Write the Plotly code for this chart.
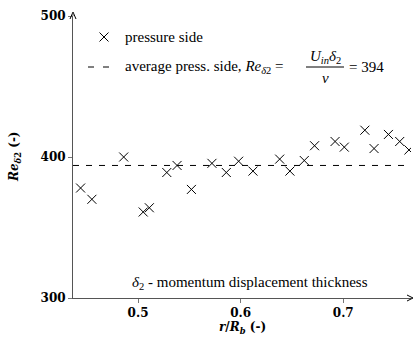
import plotly.graph_objects as go

# data
r_over_Rb = [0.444, 0.455, 0.486, 0.505, 0.511, 0.528, 0.538, 0.552, 0.572, 0.586,
             0.598, 0.612, 0.638, 0.648, 0.662, 0.672, 0.692, 0.701, 0.721, 0.730,
             0.744, 0.755, 0.764]
re_delta2 = [378, 370, 400, 361, 364, 389, 394, 377, 395.5, 389,
             397, 390, 398.5, 390, 397.5, 408, 411, 407, 419, 406,
             416, 411, 405]
avg_re = 394
x_ticks = [0.5, 0.6, 0.7]
x_tick_labels = ["0.5", "0.6", "0.7"]
y_ticks = [300, 400, 500]
y_tick_labels = ["300", "400", "500"]
x_range = [0.4366, 0.766]
y_range = [300, 500]

W, H = 414, 345
L, R, T, B = 73, 3, 16, 47
PW, PH = W - L - R, H - T - B


def px(xp):
    return (xp - L) / PW


def py(yp):
    return (H - B - yp) / PH


SERIF = "Liberation Serif"
BOLD = "DejaVu Serif"

fig = go.Figure()
fig.add_trace(go.Scatter(x=x_range, y=[avg_re, avg_re], mode="lines",
                         line=dict(color="black", width=1, dash="6px,7px"),
                         showlegend=False, hoverinfo="skip"))
fig.add_trace(go.Scatter(x=r_over_Rb, y=re_delta2, mode="markers",
                         marker=dict(symbol="x-thin", size=9,
                                     line=dict(color="black", width=1)),
                         showlegend=False))

axis_common = dict(showgrid=False, zeroline=False, showline=True,
                   linecolor="#555", linewidth=1, ticks="outside", ticklen=4,
                   tickcolor="#777", tickwidth=1,
                   tickfont=dict(family=BOLD, size=12, color="black", weight="bold"))
fig.update_xaxes(range=x_range, tickvals=x_ticks, ticktext=x_tick_labels, **axis_common)
fig.update_yaxes(range=y_range, tickvals=y_ticks, ticktext=y_tick_labels, **axis_common)

shapes = []


def seg(x0, y0, x1, y1, **kw):
    line = dict(color="black", width=1)
    line.update(kw)
    return dict(type="line", xref="paper", yref="paper", x0=px(x0), x1=px(x1),
                y0=py(y0), y1=py(y1), line=line)


# legend cross sample
cx, cy, hs = 104, 37, 4.5
shapes.append(seg(cx - hs, cy - hs, cx + hs, cy + hs))
shapes.append(seg(cx - hs, cy + hs, cx + hs, cy - hs))
# legend dash sample
shapes.append(seg(88, 67, 110, 67, dash="6px,9px"))
# fraction bar
shapes.append(seg(306, 67, 344, 67))
# axis arrow heads
shapes.append(seg(407, 295, 413, 298))
shapes.append(seg(407, 301, 413, 298))
shapes.append(seg(70, 19, 73, 12))
shapes.append(seg(76, 19, 73, 12))
shapes.append(seg(73, 16, 73, 12, color="#555"))

ann = []
tf = dict(family=SERIF, size=15, color="black")
ann.append(dict(text="pressure side", x=px(123), y=py(37), xanchor="left", yanchor="middle"))
ann.append(dict(text="average press. side, <i>Re</i><sub><i>δ</i>2</sub> =", x=px(123), y=py(67),
                xanchor="left", yanchor="middle"))
ann.append(dict(text="<i>U</i><sub><i>in</i></sub><i>δ</i><sub>2</sub>", x=px(325), y=py(57),
                xanchor="center", yanchor="middle"))
ann.append(dict(text="<i>ν</i>", x=px(325), y=py(78), xanchor="center", yanchor="middle"))
ann.append(dict(text="= 394", x=px(347), y=py(67), xanchor="left", yanchor="middle"))
ann.append(dict(text="<i>δ</i><sub>2</sub> - momentum displacement thickness", x=px(250), y=py(283),
                xanchor="center", yanchor="middle"))
for a in ann:
    a.update(xref="paper", yref="paper", showarrow=False, font=tf)

# axis titles
ann.append(dict(text="<b><i>r</i>/<i>R<sub>b</sub></i> (-)</b>", x=px(242), y=py(328),
                xref="paper", yref="paper", showarrow=False, xanchor="center", yanchor="middle",
                font=dict(family=BOLD, size=12, color="black")))
ann.append(dict(text="<b><i>Re</i><sub><i>δ</i>2</sub> (-)</b>", x=px(15), y=py(157),
                xref="paper", yref="paper", showarrow=False, xanchor="center", yanchor="middle",
                textangle=-90, font=dict(family=BOLD, size=12, color="black")))

fig.update_layout(width=W, height=H, margin=dict(l=L, r=R, t=T, b=B),
                  plot_bgcolor="white", paper_bgcolor="white",
                  shapes=shapes, annotations=ann, showlegend=False)
fig.write_html("out.html")
